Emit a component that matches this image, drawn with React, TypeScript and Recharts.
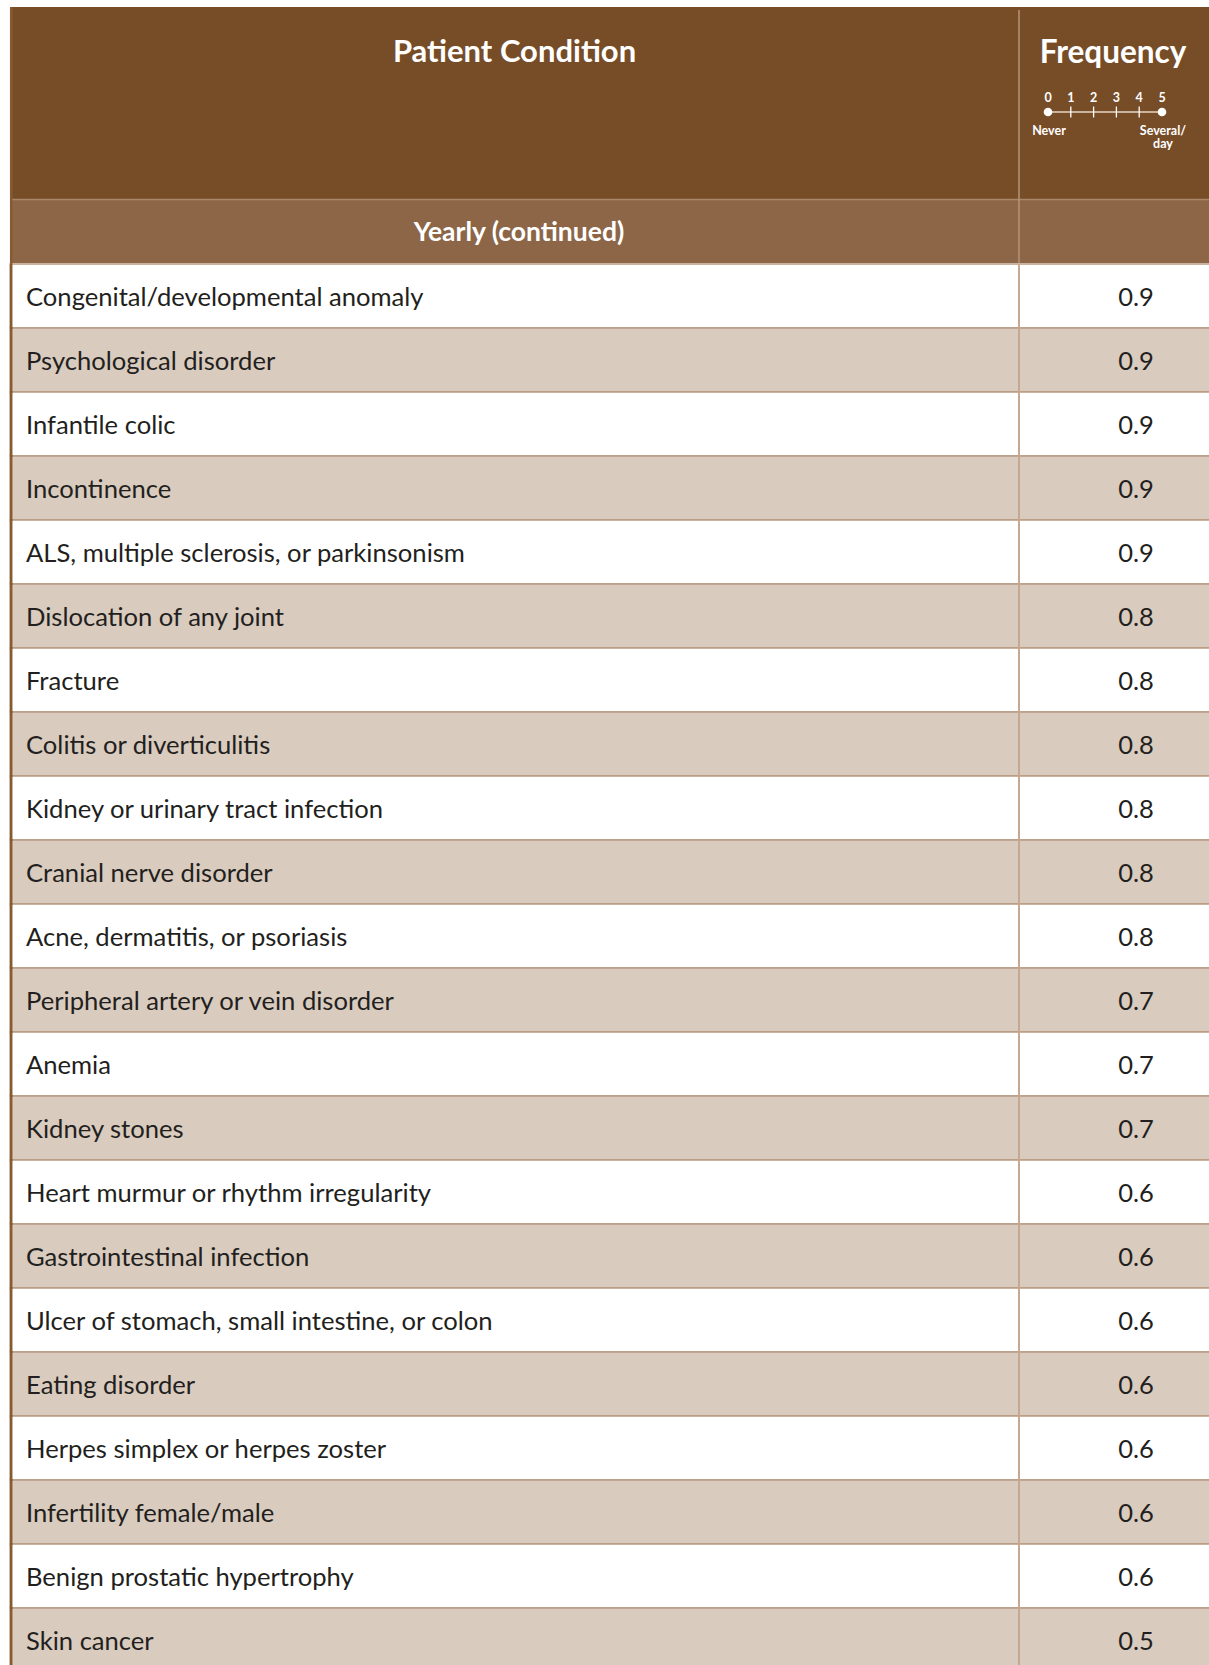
import React from 'react';
import { ComposedChart, Bar, XAxis, YAxis, ReferenceArea, LabelList } from 'recharts';

const conditions = [
  'Congenital/developmental anomaly',
  'Psychological disorder',
  'Infantile colic',
  'Incontinence',
  'ALS, multiple sclerosis, or parkinsonism',
  'Dislocation of any joint',
  'Fracture',
  'Colitis or diverticulitis',
  'Kidney or urinary tract infection',
  'Cranial nerve disorder',
  'Acne, dermatitis, or psoriasis',
  'Peripheral artery or vein disorder',
  'Anemia',
  'Kidney stones',
  'Heart murmur or rhythm irregularity',
  'Gastrointestinal infection',
  'Ulcer of stomach, small intestine, or colon',
  'Eating disorder',
  'Herpes simplex or herpes zoster',
  'Infertility female/male',
  'Benign prostatic hypertrophy',
  'Skin cancer',
];

const frequencies = [
  0.9, 0.9, 0.9, 0.9, 0.9, 0.8, 0.8, 0.8, 0.8, 0.8, 0.8,
  0.7, 0.7, 0.7, 0.6, 0.6, 0.6, 0.6, 0.6, 0.6, 0.6, 0.5,
];

const scaleTicks = [0, 1, 2, 3, 4, 5];
const columnTitles = ['Patient Condition', 'Frequency'];
const sectionTitle = 'Yearly (continued)';
const scaleEndLabels = ['Never', 'Several/', 'day'];

const data = conditions.map((condition, i) => ({ condition, frequency: frequencies[i] }));

const PAGE_W = 1209;
const PAGE_H = 1665;
const CHART_W = 1262;
const CHART_H = 1672;
const FONT = 'Lato, "Open Sans", sans-serif';
const HEADER = '#774D28';
const BAND = '#8C6647';
const ALT = '#D9CBBE';
const ROW_LINE = '#B99C82';
const DIVIDER = '#C4A891';
const TEXT = '#231F20';
const LEFT_BORDER = '#875A31';
const DIV_X = 1019;
const VALUE_X = 1136;

const RowTick = (props: any) => (
  <text x={26} y={props.y} dy={10} fontSize={25.6} fill={TEXT} fontFamily={FONT}>
    {props.payload.value}
  </text>
);

const ValueLabel = (p: any) => {
  const top = Number(p.y);
  const h = Number(p.height);
  return (
    <g>
      <line x1={DIV_X} x2={DIV_X} y1={top} y2={top + h} stroke={DIVIDER} strokeWidth={2} />
      <line x1={11.2} x2={11.2} y1={top - 0.7} y2={top + h + 0.7} stroke={LEFT_BORDER} strokeWidth={2.5} />
      <text
        x={VALUE_X}
        y={top + h / 2}
        dy={10}
        fontSize={25.5}
        textAnchor="middle"
        fill={TEXT}
        fontFamily={FONT}
      >
        {Number(p.value).toFixed(1)}
      </text>
    </g>
  );
};

const Header = () => {
  const x0 = 1048;
  const x5 = 1162;
  const sx = (v: number) => x0 + ((x5 - x0) * v) / 5;
  return (
    <g>
      <rect x={10} y={7} width={CHART_W} height={192} fill={HEADER} />
      <rect x={10} y={199} width={CHART_W} height={64} fill={BAND} />
      <line x1={10} x2={CHART_W} y1={199.5} y2={199.5} stroke="#A98769" strokeWidth={1.5} />
      <line x1={DIV_X} x2={DIV_X} y1={10} y2={263} stroke="#B4957A" strokeWidth={1.5} />
      <line x1={11.2} x2={11.2} y1={7} y2={264} stroke={LEFT_BORDER} strokeWidth={2.5} />
      <text x={514.5} y={62} textAnchor="middle" fontSize={31} fontWeight={700} fill="#fff" fontFamily={FONT}>
        {columnTitles[0]}
      </text>
      <text x={1113} y={63} textAnchor="middle" fontSize={31.5} fontWeight={700} fill="#fff" fontFamily={FONT}>
        {columnTitles[1]}
      </text>
      <text x={519} y={241} textAnchor="middle" fontSize={26.5} fontWeight={700} fill="#fff" fontFamily={FONT}>
        {sectionTitle}
      </text>
      <line x1={x0} x2={x5} y1={112} y2={112} stroke="#C9B39C" strokeWidth={2} />
      {scaleTicks.map((t) => (
        <g key={t}>
          {t > 0 && t < 5 ? (
            <line x1={sx(t)} x2={sx(t)} y1={106.5} y2={117.5} stroke="#fff" strokeWidth={1.3} />
          ) : (
            <circle cx={sx(t)} cy={112} r={4.3} fill="#fff" />
          )}
          <text x={sx(t)} y={102} textAnchor="middle" fontSize={12.5} fontWeight={700} fill="#fff" fontFamily={FONT}>
            {t}
          </text>
        </g>
      ))}
      <text x={1049} y={135} textAnchor="middle" fontSize={12.5} fontWeight={700} fill="#fff" fontFamily={FONT}>
        {scaleEndLabels[0]}
      </text>
      <text x={1163} y={135} textAnchor="middle" fontSize={12.5} fontWeight={700} fill="#fff" fontFamily={FONT}>
        {scaleEndLabels[1]}
      </text>
      <text x={1163} y={148} textAnchor="middle" fontSize={12.5} fontWeight={700} fill="#fff" fontFamily={FONT}>
        {scaleEndLabels[2]}
      </text>
    </g>
  );
};

export default function App() {
  return (
    <div
      style={{
        position: 'absolute',
        left: 0,
        top: 0,
        width: PAGE_W,
        height: PAGE_H,
        overflow: 'hidden',
        background: '#fff',
      }}
    >
      <ComposedChart
        width={CHART_W}
        height={CHART_H}
        data={data}
        layout="vertical"
        margin={{ top: 264, right: 0, bottom: 0, left: 10 }}
        barCategoryGap={0}
      >
        <XAxis type="number" domain={[0, 5]} hide />
        <YAxis
          type="category"
          dataKey="condition"
          mirror
          axisLine={false}
          tickLine={false}
          interval={0}
          tick={<RowTick />}
        />
        {data.map((d, i) => (
          <ReferenceArea
            key={d.condition}
            y1={d.condition}
            y2={d.condition}
            fill={i % 2 === 1 ? ALT : '#ffffff'}
            fillOpacity={1}
            stroke={ROW_LINE}
            strokeWidth={1.3}
            ifOverflow="visible"
          />
        ))}
        <Bar dataKey="frequency" fill="none" isAnimationActive={false}>
          <LabelList dataKey="frequency" content={ValueLabel} />
        </Bar>
        <Header />
      </ComposedChart>
    </div>
  );
}
